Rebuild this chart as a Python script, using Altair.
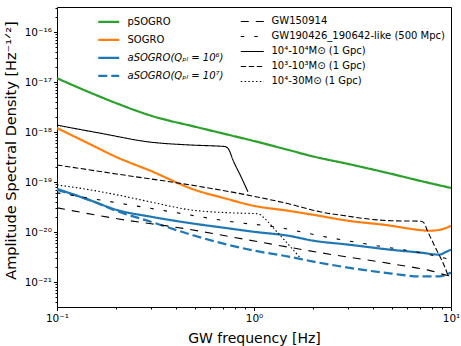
import altair as alt
import pandas as pd

# ---------------- data ----------------
det_names = ["pSOGRO", "SOGRO", "aSOGRO(Qₚₗ = 10⁶)", "aSOGRO(Qₚₗ = 10⁷)"]
det_colors = ["#2ca02c", "#ff7f0e", "#1f77b4", "#1f77b4"]

f_psogro = [0.1, 0.15, 0.2, 0.3, 0.5, 0.7, 1.0, 1.5, 2.0, 3.0, 5.0, 7.0, 10.0]
asd_psogro = [1.19e-17, 5.96e-18, 3.77e-18, 2.12e-18, 1.28e-18, 9.29e-19, 6.6e-19,
              4.36e-19, 3.24e-19, 2.30e-19, 1.45e-19, 1.05e-19, 7.6e-20]

f_sogro = [0.1, 0.15, 0.2, 0.3, 0.5, 0.7, 1.0, 1.5, 2.0, 3.0, 5.0, 6.2, 7.8, 8.8, 10.0]
asd_sogro = [1.2e-18, 5.5e-19, 3.16e-19, 1.66e-19, 6.97e-20, 4.8e-20, 3.34e-20,
             2.65e-20, 2.21e-20, 1.68e-20, 1.33e-20, 1.16e-20, 1.06e-20, 1.11e-20, 1.33e-20]

f_asogro6 = [0.1, 0.15, 0.2, 0.3, 0.5, 0.7, 1.0, 1.5, 2.0, 3.0, 5.0, 7.0, 8.7, 9.5, 10.0]
asd_asogro6 = [7.3e-20, 4.2e-20, 2.78e-20, 2.02e-20, 1.46e-20, 1.22e-20, 1.01e-20,
               8.4e-21, 6.7e-21, 5.6e-21, 4.4e-21, 3.87e-21, 3.53e-21, 4.05e-21, 4.44e-21]

f_asogro7 = [0.1, 0.15, 0.2, 0.3, 0.5, 0.7, 1.0, 1.5, 2.0, 3.0, 5.0, 7.0, 8.7, 9.5, 10.0]
asd_asogro7 = [6.97e-20, 4.2e-20, 2.65e-20, 1.6e-20, 8.4e-21, 5.85e-21, 4.24e-21,
               3.22e-21, 2.56e-21, 1.94e-21, 1.47e-21, 1.29e-21, 1.29e-21, 1.41e-21, 1.55e-21]

src_names = ["GW150914", "GW190426_190642-like (500 Mpc)", "10⁴-10⁴M⊙ (1 Gpc)",
             "10³-10³M⊙ (1 Gpc)", "10⁴-30M⊙ (1 Gpc)"]

f_gw150914 = [0.1, 0.202, 0.437, 0.917, 2.16, 5.27, 7.82, 9.66, 10.0]
asd_gw150914 = [3.05e-20, 1.84e-20, 1.18e-20, 7.03e-21, 3.87e-21, 2.23e-21, 1.69e-21, 1.35e-21, 1.32e-21]

f_gw190426 = [0.1, 0.202, 0.407, 0.756, 1.36, 2.16, 3.89, 6.95, 10.0]
asd_gw190426 = [6.07e-20, 3.84e-20, 2.42e-20, 1.62e-20, 1.22e-20, 8.4e-21, 5.58e-21, 3.87e-21, 2.8e-21]

f_m1e4 = [0.1, 0.165, 0.296, 0.473, 0.671, 0.713, 0.747, 0.782, 0.851, 0.932]
asd_m1e4 = [1.37e-18, 9.5e-19, 6.3e-19, 5.5e-19, 5.2e-19, 5.12e-19, 4.36e-19, 2.75e-19, 1.38e-19, 6.35e-20]

f_m1e3 = [0.1, 0.2, 0.473, 0.917, 1.5, 2.16, 3.0, 3.89, 5.0, 7.04, 7.29, 7.55, 8.29, 9.32, 9.66]
asd_m1e3 = [2.19e-19, 1.45e-19, 8.75e-20, 5.53e-20, 3.66e-20, 2.54e-20, 2.07e-20, 1.8e-20,
            1.68e-20, 1.64e-20, 1.53e-20, 1.11e-20, 5.1e-21, 1.95e-21, 1.35e-21]

f_m30 = [0.1, 0.147, 0.202, 0.296, 0.473, 0.756, 1.048, 1.137, 1.278, 1.437, 1.712]
asd_m30 = [8.75e-20, 6.97e-20, 5.53e-20, 4.02e-20, 2.78e-20, 2.42e-20, 2.32e-20, 1.84e-20,
           1.11e-20, 6.7e-21, 3.08e-21]

# ---------------- tables ----------------
def table(name_col, pairs):
    rows = []
    for name, fs, vs in pairs:
        for f, v in zip(fs, vs):
            rows.append({name_col: name, "f": f, "asd": v})
    return pd.DataFrame(rows)

det_df = table("det", [
    (det_names[0], f_psogro, asd_psogro),
    (det_names[1], f_sogro, asd_sogro),
    (det_names[2], f_asogro6, asd_asogro6),
    (det_names[3], f_asogro7, asd_asogro7),
])
src_df = table("src", [
    (src_names[0], f_gw150914, asd_gw150914),
    (src_names[1], f_gw190426, asd_gw190426),
    (src_names[2], f_m1e4, asd_m1e4),
    (src_names[3], f_m1e3, asd_m1e3),
    (src_names[4], f_m30, asd_m30),
])

# ---------------- axes ----------------
FONT = "DejaVu Sans"
x_ticks = [m * 10.0 ** e for e in (-1, 0) for m in range(1, 10)] + [10.0]
y_lo, y_hi = 10 ** -21.5, 10 ** -15.5
y_ticks = [m * 10.0 ** e for e in range(-22, -15) for m in range(1, 10)]
y_ticks = [v for v in y_ticks if y_lo <= v <= y_hi]

exp_s = "('' + round(log(datum.value)/LN10))"
sup = exp_s
for a, b in [("-", "⁻"), ("0", "⁰"), ("1", "¹"), ("2", "²"), ("3", "³"), ("4", "⁴"),
             ("5", "⁵"), ("6", "⁶"), ("7", "⁷"), ("8", "⁸"), ("9", "⁹")]:
    sup = f"replace({sup}, '{a}', '{b}')"
major = "abs(log(datum.value)/LN10 - round(log(datum.value)/LN10)) < 0.001"
label_expr = f"{major} ? '10' + {sup} : ''"
tick_size = {"condition": {"test": major, "value": 3.5}, "value": 2}

x_axis = alt.Axis(values=x_ticks, labelExpr=label_expr, tickSize=tick_size, grid=False,
                  domain=False, labelFlush=False, labelFont=FONT, labelFontSize=10.5,
                  labelColor="black", tickColor="black", labelPadding=3,
                  title="GW frequency [Hz]", titleFont=FONT, titleFontSize=14,
                  titleFontWeight="normal", titleColor="black",
                  titleX=197, titleY=31, titleBaseline="middle", titleAlign="center")
y_axis = alt.Axis(values=y_ticks, labelExpr=label_expr, tickSize=tick_size, grid=False,
                  domain=False, labelFlush=False, labelFont=FONT, labelFontSize=10.5,
                  labelColor="black", tickColor="black", labelPadding=2,
                  title="Amplitude Spectral Density [Hz⁻¹ᐟ²]", titleFont=FONT,
                  titleFontSize=14.5, titleFontWeight="normal", titleColor="black",
                  titleX=-46, titleY=143, titleBaseline="middle", titleAlign="center")

x_enc = alt.X("f:Q", scale=alt.Scale(type="log", domain=[0.1, 10], nice=False), axis=x_axis)
y_enc = alt.Y("asd:Q", scale=alt.Scale(type="log", domain=[y_lo, y_hi], nice=False), axis=y_axis)

det_legend = alt.Legend(title=None, orient="none", legendX=45.25, legendY=8.45,
                        symbolType="M-2,0H2", symbolSize=110, symbolStrokeWidth=2.2,
                        labelFont=FONT, labelFontSize=10, labelColor="black",
                        labelFontStyle=alt.ExprRef("indexof(datum.label, 'aSOGRO') >= 0 ? 'italic' : 'normal'"),
                        labelOffset=12.25, rowPadding=6, padding=0, labelLimit=300)
src_legend = alt.Legend(title=None, orient="none", legendX=188.75, legendY=7.95,
                        symbolType="M-2,0H2", symbolSize=132, symbolStrokeWidth=1.5,
                        symbolStrokeColor="black",
                        labelFont=FONT, labelFontSize=10, labelColor="black",
                        labelOffset=12.75, rowPadding=3, padding=0, labelLimit=300)

det_layer = alt.Chart(det_df).mark_line(clip=True, strokeWidth=2.2, interpolate="monotone").encode(
    x=x_enc, y=y_enc,
    color=alt.Color("det:N", scale=alt.Scale(domain=det_names, range=det_colors), legend=det_legend),
    strokeDash=alt.StrokeDash("det:N", scale=alt.Scale(domain=det_names,
                              range=[[1, 0], [1, 0], [1, 0], [9, 4]]), legend=det_legend),
    order=alt.Order("f:Q"),
)

src_layer = alt.Chart(src_df).mark_line(clip=True, color="black", interpolate="monotone").encode(
    x=x_enc, y=y_enc,
    strokeDash=alt.StrokeDash("src:N", scale=alt.Scale(domain=src_names,
                              range=[[8, 7], [3.5, 10], [1, 0], [5.5, 2.5], [1.5, 2.3]]),
                              legend=src_legend),
    strokeWidth=alt.StrokeWidth("src:N", scale=alt.Scale(domain=src_names,
                                range=[1.1, 1.1, 1.6, 1.7, 1.5]), legend=None),
    order=alt.Order("f:Q"),
)

chart = alt.layer(det_layer, src_layer).resolve_scale(
    color="independent", strokeDash="independent", strokeWidth="independent"
).resolve_legend(
    color="independent", strokeDash="independent"
).properties(
    width=394, height=300,
    autosize=alt.AutoSizeParams(type="none"),
    padding={"left": 57, "top": 7, "right": 10, "bottom": 39},
    background="white",
).configure_view(stroke="black", strokeWidth=1)

chart.save("out.html", embed_options={"renderer": "svg", "actions": False})
